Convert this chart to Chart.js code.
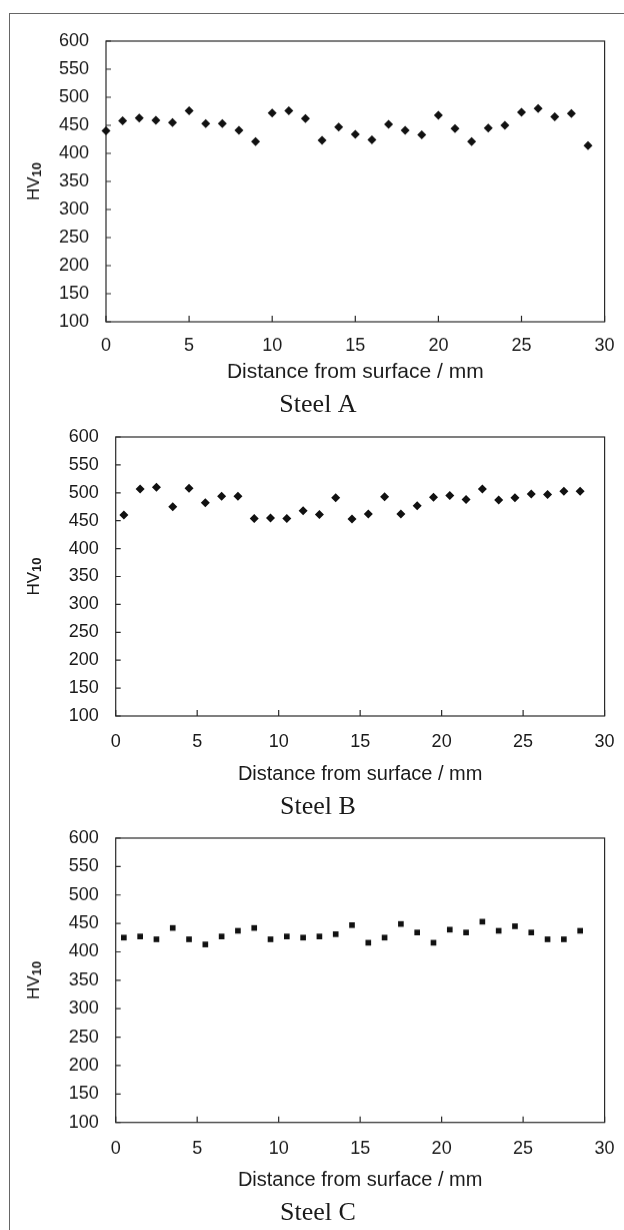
<!DOCTYPE html>
<html>
<head>
<meta charset="utf-8">
<script src="https://cdn.jsdelivr.net/npm/chart.js@4.4.1/dist/chart.umd.min.js"></script>
<style>
html, body { margin: 0; padding: 0; background: #fff; }
#page { position: relative; width: 624px; height: 1230px; overflow: hidden; background: #fff; }
#frame { position: absolute; left: 9px; top: 13px; width: 700px; height: 1400px; border: 1.5px solid #666; box-sizing: border-box; }
.panel { position: absolute; left: 10px; width: 614px; }
</style>
</head>
<body>
<div id="page">
  <div id="frame"></div>
  <div class="panel" id="pA"><canvas id="chartA"></canvas></div>
  <div class="panel" id="pB"><canvas id="chartB"></canvas></div>
  <div class="panel" id="pC"><canvas id="chartC"></canvas></div>
</div>
<script>
// hardness profiles
const distA = [0, 1, 2, 3, 4, 5, 6, 7, 8, 9, 10, 11, 12, 13, 14, 15, 16, 17, 18, 19, 20, 21, 22, 23, 24, 25, 26, 27, 28, 29];
const hvA = [440, 458, 463, 459, 455, 476, 453, 453, 441, 421, 472, 476, 462, 423, 447, 434, 424, 452, 441, 433, 468, 444, 421, 445, 450, 473, 480, 465, 471, 414];

const distB = [0.5, 1.5, 2.5, 3.5, 4.5, 5.5, 6.5, 7.5, 8.5, 9.5, 10.5, 11.5, 12.5, 13.5, 14.5, 15.5, 16.5, 17.5, 18.5, 19.5, 20.5, 21.5, 22.5, 23.5, 24.5, 25.5, 26.5, 27.5, 28.5];
const hvB = [460, 507, 510, 475, 508, 482, 494, 494, 454, 455, 454, 468, 461, 491, 453, 462, 493, 462, 477, 492, 495, 488, 507, 487, 491, 498, 497, 503, 503];

const distC = [0.5, 1.5, 2.5, 3.5, 4.5, 5.5, 6.5, 7.5, 8.5, 9.5, 10.5, 11.5, 12.5, 13.5, 14.5, 15.5, 16.5, 17.5, 18.5, 19.5, 20.5, 21.5, 22.5, 23.5, 24.5, 25.5, 26.5, 27.5, 28.5];
const hvC = [425, 427, 422, 442, 422, 413, 427, 437, 442, 422, 427, 425, 427, 431, 447, 416, 425, 449, 434, 416, 439, 434, 453, 437, 445, 434, 422, 422, 437];

const xTickValues = [0, 5, 10, 15, 20, 25, 30];
const yTickValues = [100, 150, 200, 250, 300, 350, 400, 450, 500, 550, 600];

const xTitle = 'Distance from surface / mm';
const steelNames = ['Steel A', 'Steel B', 'Steel C'];

const SANS = "'Liberation Sans', Arial, sans-serif";
const SERIF = "'Liberation Serif', 'Times New Roman', serif";
const INK = '#1a1a1a';

// plot box, inward tick marks and the HV10 axis title
const framePlugin = {
  id: 'frame',
  beforeDatasetsDraw(chart) {
    const {ctx, chartArea: a, scales: {x, y}} = chart;
    ctx.save();
    ctx.strokeStyle = '#2a2a2a';
    ctx.lineWidth = 1.2;
    ctx.strokeRect(a.left, a.top, a.right - a.left, a.bottom - a.top);
    ctx.beginPath();
    y.ticks.forEach(t => {
      const py = y.getPixelForValue(t.value);
      ctx.moveTo(a.left, py);
      ctx.lineTo(a.left + 5, py);
    });
    x.ticks.forEach(t => {
      const px = x.getPixelForValue(t.value);
      ctx.moveTo(px, a.bottom);
      ctx.lineTo(px, a.bottom - 6);
    });
    ctx.stroke();

    // y title with subscript
    ctx.translate(24, (a.top + a.bottom) / 2);
    ctx.rotate(-Math.PI / 2);
    ctx.fillStyle = INK;
    ctx.textBaseline = 'middle';
    ctx.textAlign = 'left';
    ctx.font = '17px ' + SANS;
    const wHV = ctx.measureText('HV').width;
    ctx.font = 'bold 13px ' + SANS;
    const wSub = ctx.measureText('10').width;
    const start = -(wHV + wSub) / 2;
    ctx.font = '17px ' + SANS;
    ctx.fillText('HV', start, 0);
    ctx.font = 'bold 13px ' + SANS;
    ctx.fillText('10', start + wHV, 3.5);
    ctx.restore();
  }
};

function makePanel(boxId, canvasId, g, xs, ys, marker, radius, name) {
  const box = document.getElementById(boxId);
  const top = g.top - 22;
  const labelH = 26 * 1.2;
  const height = g.labelY + labelH / 2 - top;
  box.style.top = top + 'px';
  box.style.height = height + 'px';

  const padR = 624 - g.right;
  const padL = 2 + padR;
  const yAxisW = g.left - 10 - padL;
  const xAxisH = g.labelY - labelH / 2 - g.bottom;
  const titleLH = g.titleSize * 1.2;
  const titlePadB = (g.labelY - labelH / 2) - titleLH / 2 - g.titleY;

  const points = xs.map((v, i) => ({x: v, y: ys[i]}));

  return new Chart(document.getElementById(canvasId), {
    type: 'scatter',
    data: {
      datasets: [{
        data: points,
        pointStyle: marker,
        pointRadius: radius,
        pointHoverRadius: radius,
        pointBackgroundColor: '#111',
        pointBorderWidth: 0,
        clip: false
      }]
    },
    options: {
      responsive: true,
      maintainAspectRatio: false,
      animation: false,
      events: [],
      layout: {padding: {top: 22, left: padL, right: padR, bottom: 0}},
      plugins: {
        legend: {display: false},
        tooltip: {enabled: false},
        title: {
          display: true,
          position: 'bottom',
          text: name,
          color: INK,
          font: {family: SERIF, size: 26, weight: 'normal', lineHeight: 1.2},
          padding: 0
        }
      },
      scales: {
        x: {
          type: 'linear',
          min: 0,
          max: 30,
          afterBuildTicks: s => { s.ticks = xTickValues.map(v => ({value: v})); },
          afterFit: s => {
            s.height = xAxisH;
            s.paddingLeft = 0;
            s.paddingRight = 0;
          },
          grid: {display: false, drawTicks: false, tickLength: 0},
          border: {display: false},
          ticks: {
            color: INK,
            font: {family: SANS, size: 18},
            padding: g.tickOff - 10.8,
            maxRotation: 0
          },
          title: {
            display: true,
            text: xTitle,
            color: INK,
            font: {family: SANS, size: g.titleSize, lineHeight: 1.2},
            padding: {top: 0, bottom: titlePadB}
          }
        },
        y: {
          type: 'linear',
          min: 100,
          max: 600,
          afterBuildTicks: s => { s.ticks = yTickValues.map(v => ({value: v})); },
          afterFit: s => {
            s.width = yAxisW;
            s.paddingTop = 0;
            s.paddingBottom = 0;
          },
          grid: {display: false, drawTicks: false, tickLength: 0},
          border: {display: false},
          ticks: {
            color: INK,
            font: {family: SANS, size: 18},
            padding: 17
          }
        }
      }
    },
    plugins: [framePlugin]
  });
}

makePanel('pA', 'chartA',
  {left: 106, right: 604.6, top: 40.7, bottom: 320.7, tickOff: 24.3, titleY: 370.7, labelY: 404, titleSize: 21},
  distA, hvA, 'rectRot', 4.5, steelNames[0]);
makePanel('pB', 'chartB',
  {left: 115.7, right: 604.6, top: 437, bottom: 716, tickOff: 25.7, titleY: 774, labelY: 806.7, titleSize: 20},
  distB, hvB, 'rectRot', 4.5, steelNames[1]);
makePanel('pC', 'chartC',
  {left: 115.7, right: 604.6, top: 838.3, bottom: 1122, tickOff: 26, titleY: 1180, labelY: 1212, titleSize: 20},
  distC, hvC, 'rect', 4, steelNames[2]);
</script>
</body>
</html>
